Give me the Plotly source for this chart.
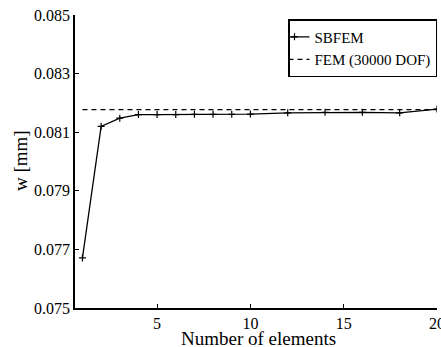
import plotly.graph_objects as go

n_elements = [1, 2, 3, 4, 5, 6, 7, 8, 9, 10, 12, 14, 16, 18, 20]
w_sbfem = [0.07671, 0.08120, 0.08148, 0.08160, 0.08160, 0.08160, 0.08161, 0.08161,
           0.08161, 0.08162, 0.08166, 0.08168, 0.08168, 0.08166, 0.08179]
fem_x = [1, 20]
fem_w = [0.08177, 0.08177]
x_title = "Number of elements"
y_title = "w [mm]"

FONT = "Liberation Serif"
TICKFONT = dict(family=FONT, size=16, color="black")

fig = go.Figure()
fig.add_trace(go.Scatter(
    x=n_elements, y=w_sbfem, mode="lines+markers", name="SBFEM",
    line=dict(color="black", width=1.3),
    marker=dict(symbol="cross-thin", size=5, line=dict(color="black", width=1.2)),
))
fig.add_trace(go.Scatter(
    x=fem_x, y=fem_w, mode="lines", name="FEM (30000 DOF)",
    line=dict(color="black", width=1.3, dash="5px,4px"),
))
fig.add_annotation(x=0.508, y=-0.103, xref="paper", yref="paper", showarrow=False,
                   text=x_title, xanchor="center", yanchor="middle",
                   font=dict(family=FONT, size=19, color="black"))
fig.add_annotation(x=-0.152, y=0.505, xref="paper", yref="paper", showarrow=False,
                   text=y_title, textangle=-90, xanchor="center", yanchor="middle",
                   font=dict(family=FONT, size=19, color="black"))

fig.update_layout(
    width=441, height=347,
    margin=dict(l=75, r=4, t=15, b=39),
    paper_bgcolor="white", plot_bgcolor="white",
    font=dict(family=FONT, size=15, color="black"),
    showlegend=True,
    legend=dict(x=1, xanchor="right", y=0.986, yanchor="top",
                bordercolor="black", borderwidth=1.5, bgcolor="white",
                font=dict(family=FONT, size=15, color="black"), tracegroupgap=0,
                itemwidth=30, indentation=-15),
    xaxis=dict(range=[0.6, 20], tickvals=[5, 10, 15, 20], ticks="inside", ticklen=4,
               tickcolor="black", showline=True, linecolor="black", linewidth=1.8,
               showgrid=False, zeroline=False, ticklabeloverflow="allow", automargin=False,
               tickfont=TICKFONT),
    yaxis=dict(range=[0.075, 0.085], tickvals=[0.075, 0.077, 0.079, 0.081, 0.083, 0.085],
               tickformat=".3f", ticks="inside", ticklen=4, automargin=False,
               tickcolor="black", showline=True, linecolor="black", linewidth=1.8,
               showgrid=False, zeroline=False, tickfont=TICKFONT),
)

fig.write_html("out.html")
